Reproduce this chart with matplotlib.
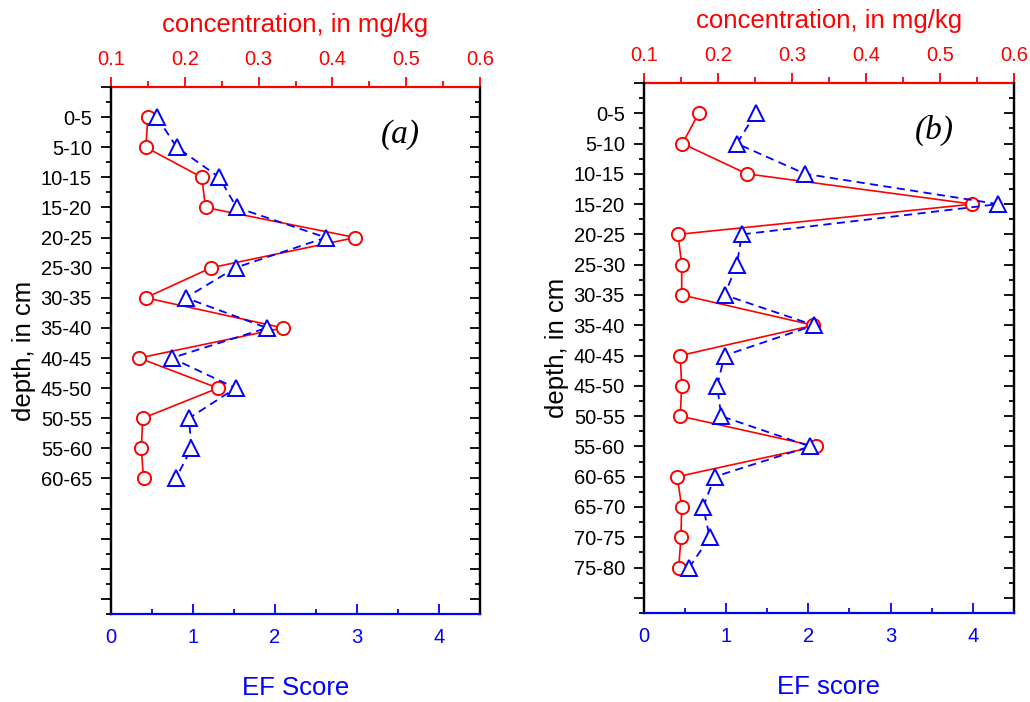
# Depth profiles: concentration (top axis) and EF score (bottom axis)

import matplotlib
matplotlib.use('Agg')
import matplotlib.pyplot as plt
from matplotlib.ticker import FixedLocator, MultipleLocator

plt.rcParams['font.family'] = ['Liberation Sans', 'DejaVu Sans']

# data
depth_a = ['0-5', '5-10', '10-15', '15-20', '20-25', '25-30', '30-35',
           '35-40', '40-45', '45-50', '50-55', '55-60', '60-65']
conc_a = [0.150, 0.147, 0.223, 0.228, 0.431, 0.236, 0.147,
          0.333, 0.138, 0.245, 0.143, 0.141, 0.144]
ef_a = [0.56, 0.80, 1.32, 1.53, 2.62, 1.52, 0.91,
        1.90, 0.74, 1.52, 0.95, 0.98, 0.79]

depth_b = ['0-5', '5-10', '10-15', '15-20', '20-25', '25-30', '30-35', '35-40',
           '40-45', '45-50', '50-55', '55-60', '60-65', '65-70', '70-75', '75-80']
conc_b = [0.174, 0.152, 0.239, 0.544, 0.146, 0.151, 0.151, 0.329,
          0.149, 0.151, 0.149, 0.333, 0.145, 0.151, 0.150, 0.147]
ef_b = [1.36, 1.13, 1.96, 4.31, 1.19, 1.13, 0.98, 2.07,
        0.98, 0.89, 0.94, 2.02, 0.86, 0.72, 0.80, 0.55]

fig = plt.figure(figsize=(10.3, 7.02), dpi=100)

MAJ, MIN = 7.2, 3.6   # tick lengths in points


def panel(rect, depth, conc, ef, tag, ef_label):
    ax = fig.add_axes(rect)      # EF score, bottom axis
    ax2 = ax.twiny()             # concentration, top axis
    ax.set_zorder(ax2.get_zorder() + 1)
    ax.patch.set_visible(False)

    pos = list(range(len(depth)))

    # concentration (red circles, solid)
    ax2.plot(conc, pos, color='red', lw=1.2, marker='o', ms=9.5,
             mfc='white', mec='red', mew=1.4)
    # EF score (blue triangles, dashed)
    ax.plot(ef, pos, color='blue', lw=1.3, ls=(0, (4.5, 3)), marker='^', ms=11.5,
            mfc='white', mec='blue', mew=1.4)

    ax.set_xlim(0, 4.5)
    ax2.set_xlim(0.1, 0.6)
    ax.set_ylim(16.5, -1)

    # y ticks: labels only at the depth rows
    ax.yaxis.set_major_locator(FixedLocator(list(range(-1, 17))))
    ax.yaxis.set_minor_locator(FixedLocator([i + 0.5 for i in range(-1, 17)]))
    ax.set_yticklabels([''] + depth + [''] * (17 - len(depth)))
    ax.tick_params(axis='y', which='both', direction='out', left=True, right=False,
                   labelsize=14.5, pad=6.5, width=1.3)
    ax.tick_params(axis='y', which='major', length=MAJ)
    ax.tick_params(axis='y', which='minor', length=MIN)
    ax2.yaxis.set_visible(True)
    ax2.tick_params(axis='y', which='both', direction='in', left=False, right=True,
                    labelleft=False, labelright=False, width=1.3)
    ax2.tick_params(axis='y', which='major', length=MAJ)
    ax2.tick_params(axis='y', which='minor', length=MIN)

    # bottom axis (blue)
    ax.xaxis.set_major_locator(MultipleLocator(1))
    ax.xaxis.set_minor_locator(MultipleLocator(0.5))
    ax.tick_params(axis='x', which='both', direction='in', colors='blue',
                   labelsize=14.5, pad=10, width=1.3)
    ax.tick_params(axis='x', which='major', length=MAJ)
    ax.tick_params(axis='x', which='minor', length=MIN)
    ax.set_xlabel(ef_label, color='blue', fontsize=18.5, labelpad=21)

    # top axis (red)
    ax2.xaxis.set_major_locator(MultipleLocator(0.1))
    ax2.xaxis.set_minor_locator(MultipleLocator(0.05))
    ax2.tick_params(axis='x', which='both', direction='out', colors='red',
                    labelsize=14.5, pad=5.5, width=1.3)
    ax2.tick_params(axis='x', which='major', length=MAJ)
    ax2.tick_params(axis='x', which='minor', length=4.3)
    ax2.set_xlabel('concentration, in mg/kg', color='red', fontsize=18.5, labelpad=13)

    ax.set_ylabel('depth, in cm', fontsize=18.5, labelpad=3)

    # spines
    ax.spines['top'].set_visible(False)
    ax2.spines['bottom'].set_visible(False)
    ax.spines['bottom'].set_color('blue')
    ax2.spines['top'].set_color('red')
    for a in (ax, ax2):
        for s in a.spines.values():
            s.set_linewidth(1.6)

    ax.text(0.785, 0.91, tag, transform=ax.transAxes, fontsize=24,
            family='Liberation Serif', style='italic', ha='center', va='center')


panel([0.1078, 0.1254, 0.3583, 0.7507], depth_a, conc_a, ef_a, '(a)', 'EF Score')
panel([0.6252, 0.1268, 0.3592, 0.7550], depth_b, conc_b, ef_b, '(b)', 'EF score')

plt.savefig('out.png', dpi=100)
